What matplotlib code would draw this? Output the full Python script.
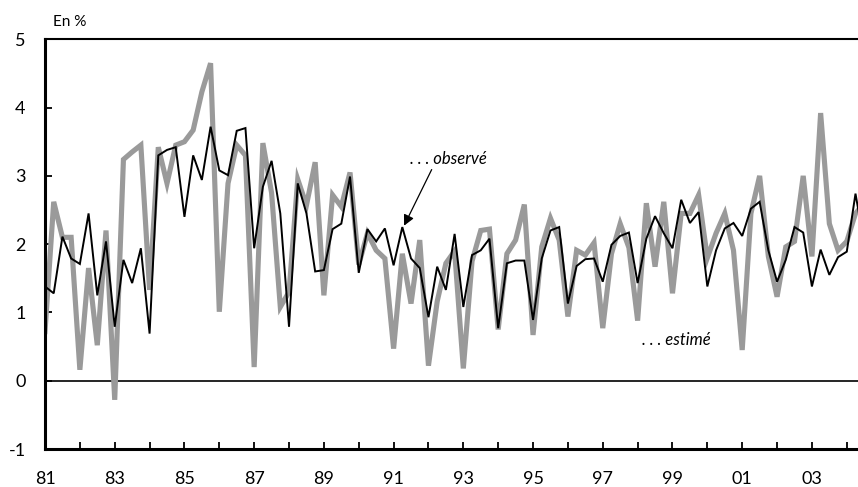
import numpy as np
import matplotlib
matplotlib.use("Agg")
import matplotlib.pyplot as plt

plt.rcParams['font.family'] = ['Lato', 'DejaVu Sans']

# Quarterly data, 1981Q1 onwards
start_year = 81
estime = [0.72, 2.62, 2.10, 2.10, 0.16, 1.65, 0.52, 2.20, -0.28, 3.24,
          3.35, 3.45, 1.33, 3.42, 2.89, 3.45, 3.50, 3.67, 4.23, 4.65,
          1.01, 2.89, 3.45, 3.30, 0.20, 3.48, 2.75, 1.08, 1.30, 2.95,
          2.57, 3.20, 1.25, 2.72, 2.55, 3.05, 1.70, 2.16, 1.91, 1.79,
          0.47, 1.86, 1.13, 2.06, 0.22, 1.16, 1.72, 1.90, 0.18, 1.75,
          2.20, 2.22, 0.75, 1.86, 2.06, 2.58, 0.67, 1.96, 2.38, 2.06,
          0.94, 1.91, 1.84, 2.02, 0.77, 1.86, 2.30, 1.95, 0.88, 2.60,
          1.67, 2.62, 1.28, 2.45, 2.45, 2.72, 1.80, 2.16, 2.45, 1.91,
          0.45, 2.45, 3.00, 1.82, 1.23, 1.96, 2.04, 3.00, 1.82, 3.92,
          2.30, 1.91, 2.04, 2.45, 2.60]
observe = [1.38, 1.28, 2.11, 1.79, 1.71, 2.45, 1.25, 2.04, 0.79, 1.77,
           1.43, 1.94, 0.69, 3.30, 3.38, 3.42, 2.40, 3.30, 2.94, 3.72,
           3.08, 3.01, 3.66, 3.70, 1.94, 2.84, 3.22, 2.45, 0.79, 2.89,
           2.45, 1.60, 1.62, 2.22, 2.30, 2.99, 1.58, 2.22, 2.04, 2.23,
           1.69, 2.25, 1.79, 1.65, 0.93, 1.67, 1.33, 2.15, 1.08, 1.84,
           1.91, 2.08, 0.77, 1.72, 1.76, 1.76, 0.89, 1.79, 2.20, 2.25,
           1.13, 1.68, 1.78, 1.79, 1.45, 1.99, 2.12, 2.17, 1.43, 2.08,
           2.41, 2.16, 1.94, 2.65, 2.31, 2.47, 1.38, 1.91, 2.23, 2.31,
           2.12, 2.52, 2.62, 1.91, 1.45, 1.77, 2.25, 2.17, 1.38, 1.92,
           1.55, 1.81, 1.89, 2.74, 2.00]
tick_years = list(range(81, 104, 2))
tick_labels = [f"{y % 100:02d}" for y in tick_years]

t = start_year + np.arange(len(estime)) * 0.25

fig = plt.figure(figsize=(8.58, 4.87), dpi=100)
ax = fig.add_axes([45/858, 38/487, 1 - 45/858, (447.7-38)/487])

ax.plot(t, estime, color='#9a9a9a', lw=3.7, solid_joinstyle='miter', zorder=2)
ax.plot(t, observe, color='black', lw=1.4, solid_joinstyle='miter', zorder=3)
ax.axhline(0, color='black', lw=1.2, zorder=1)

ax.set_xlim(81, 81 + 813/34.86)
ax.set_ylim(-1, 5)

ax.set_xticks(range(81, 105))
ax.set_xticklabels([f"{y % 100:02d}" if y in tick_years else "" for y in range(81, 105)])
ax.set_yticks(range(-1, 6))
ax.set_yticklabels([str(v) for v in range(-1, 6)])
ax.tick_params(axis='x', direction='in', length=5, width=1.3, pad=16, labelsize=13)
ax.tick_params(axis='y', direction='in', length=5, width=1.3, pad=14, labelsize=13)

ax.spines['right'].set_visible(False)
ax.spines['left'].set_linewidth(2.2)
ax.spines['bottom'].set_linewidth(2.2)
ax.spines['top'].set_linewidth(1.5)

fig.text(53/858, 1 - 22/487, "En %", fontsize=11, va='center', ha='left')

ax.annotate(". . . observé", xy=(91.30, 2.27), xytext=(91.47, 3.25),
            fontsize=12, style='italic', ha='left', va='center',
            arrowprops=dict(arrowstyle='-|>', color='black', lw=0.9,
                            mutation_scale=16, shrinkA=0, shrinkB=0,
                            relpos=(0.3, 0.0)))
ax.text(98.13, 0.60, ". . . estimé", fontsize=12, style='italic', ha='left', va='center')

fig.savefig("out.png", dpi=100)
